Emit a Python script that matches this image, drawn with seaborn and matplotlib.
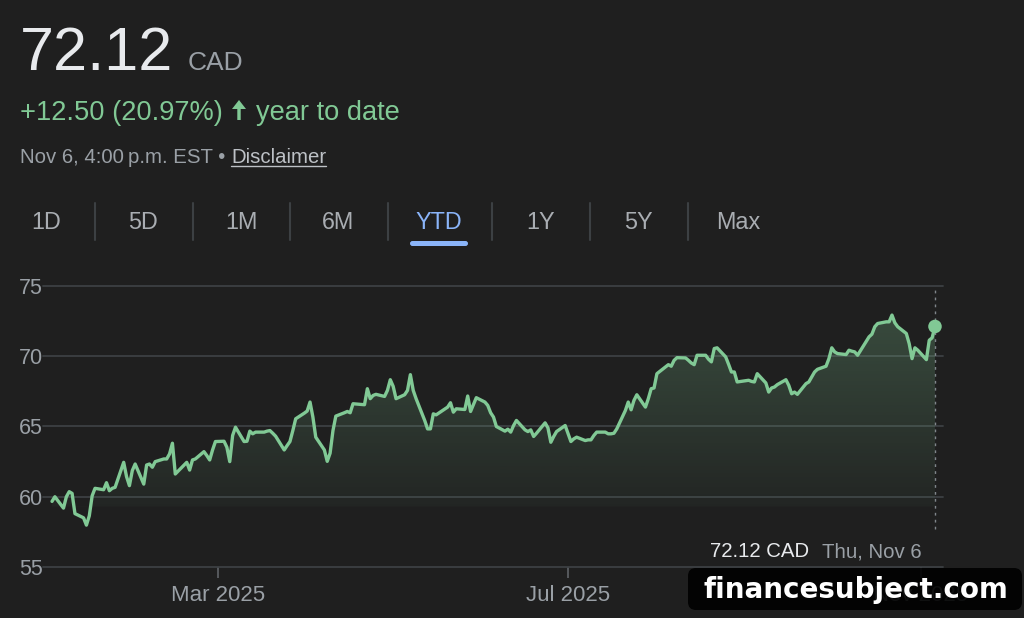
import numpy as np
import pandas as pd
import matplotlib
matplotlib.use("Agg")
import matplotlib.pyplot as plt
import matplotlib.dates as mdates
from matplotlib.patches import Polygon, FancyBboxPatch, FancyArrow
from matplotlib.lines import Line2D
from matplotlib.transforms import IdentityTransform
import seaborn as sns

# closing prices, one per TSX trading day (Jan 2 - Nov 6, 2025)
price = [59.67, 60.0, 59.19, 60.0, 60.36, 60.24, 58.8, 58.5, 57.98, 58.64,
         60.07, 60.6, 60.5, 61.0, 60.43, 60.6, 60.67, 62.45, 61.43, 60.79,
         61.86, 62.33, 60.9, 62.26, 62.33, 62.1, 62.5, 62.69, 62.69, 63.05,
         63.81, 61.62, 62.45, 61.9, 62.62, 62.69, 63.21, 62.93, 62.62, 63.33,
         63.93, 63.95, 63.52, 62.5, 64.36, 64.95, 63.93, 63.95, 64.67, 64.48,
         64.6, 64.6, 64.67, 64.71, 64.52, 64.31, 63.33, 63.64, 63.93, 64.71,
         65.55, 65.95, 66.1, 66.74, 65.67, 64.24, 63.33, 62.52, 63.1, 64.71,
         65.74, 65.98, 66.07, 65.98, 66.62, 66.55, 67.69, 66.98, 67.21, 67.29,
         67.14, 67.57, 68.33, 67.86, 66.98, 67.26, 67.57, 68.69, 67.57, 66.98,
         65.43, 64.83, 64.83, 65.9, 65.83, 66.38, 66.69, 66.02, 66.26, 66.21,
         67.17, 66.07, 66.55, 67.05, 66.74, 66.5, 65.98, 65.67, 65.0, 64.67,
         64.81, 64.6, 65.07, 65.43, 64.76, 64.64, 64.76, 64.29, 64.52, 65.26,
         64.9, 63.88, 64.29, 64.64, 65.07, 63.93, 64.12, 64.24, 64.0, 64.05,
         64.05, 64.36, 64.6, 64.6, 64.48, 64.48, 64.52, 64.83, 66.14, 66.74,
         66.19, 66.86, 67.26, 66.38, 66.98, 67.69, 67.74, 68.76, 69.4, 69.29,
         69.71, 69.9, 69.88, 69.71, 69.52, 69.4, 70.07, 70.07, 69.79, 69.6,
         70.55, 70.6, 69.95, 69.43, 68.88, 68.88, 68.17, 68.29, 68.21, 68.17,
         68.76, 68.1, 67.45, 67.74, 67.81, 67.98, 68.33, 67.93, 67.33, 67.45,
         67.29, 68.05, 68.17, 68.52, 68.88, 69.07, 69.29, 69.83, 70.6, 70.31,
         70.19, 70.12, 70.43, 70.36, 70.31, 70.07, 71.38, 71.57, 72.1, 72.33,
         72.45, 72.45, 72.93, 72.38, 72.1, 71.62, 70.9, 69.83, 70.6, 70.43,
         69.76, 71.14, 71.31, 72.12]
holidays = ["2025-02-17", "2025-04-18", "2025-05-19", "2025-07-01",
            "2025-08-04", "2025-09-01", "2025-10-13"]
dates = pd.bdate_range("2025-01-02", "2025-11-06", freq="C", holidays=holidays)

y_ticks = [55, 60, 65, 70, 75]
x_ticks = ["2025-03-01", "2025-07-01", "2025-11-01"]
x_tick_labels = ["Mar 2025", "Jul 2025", "Nov 2025"]
ranges = ["1D", "5D", "1M", "6M", "YTD", "1Y", "5Y", "Max"]
selected = "YTD"
last_price = 72.12
change = 12.50
change_pct = 20.97

BG = "#1f1f1f"
GREEN = "#81c995"
GRID = "#3c4043"
MUTED = "#9aa0a6"
TEXT = "#e8eaed"
BLUE = "#8ab4f8"

sns.set_theme(style="dark", rc={"axes.facecolor": BG, "figure.facecolor": BG,
                                "savefig.facecolor": BG})
plt.rcParams["font.family"] = ["Liberation Sans", "DejaVu Sans"]

W, H = 1024, 618
fig = plt.figure(figsize=(W / 100, H / 100), dpi=100)


def fx(x):
    return x / W


def fy(y):
    return 1 - y / H


# chart area
ax = fig.add_axes([fx(43), fy(567), fx(943) - fx(43), fy(286) - fy(567)])
df = pd.DataFrame({"date": dates, "price": price})
sns.lineplot(data=df, x="date", y="price", ax=ax, color=GREEN, lw=2.4, zorder=4)

# gradient fill under the line
xn = mdates.date2num(df["date"])
base = 59.3
verts = [(xn[0], base)] + list(zip(xn, df["price"])) + [(xn[-1], base)]
poly = Polygon(verts, closed=True, facecolor="none", edgecolor="none")
ax.add_patch(poly)
rgba = np.zeros((256, 1, 4))
rgba[..., :3] = matplotlib.colors.to_rgb(GREEN)
rgba[:, 0, 3] = np.linspace(0.26, 0.04, 256)
im = ax.imshow(rgba, extent=[xn[0], xn[-1], base, max(price)], origin="upper",
               aspect="auto", zorder=2, interpolation="bilinear")
im.set_clip_path(poly)

ax.set_xlim(xn[0] - 9 / 2.861, xn[-1] + 8 / 2.861)
ax.set_ylim(55, 75)
ax.set_yticks(y_ticks)
ax.set_xticks(mdates.date2num(pd.to_datetime(x_ticks)))
ax.set_xticklabels(x_tick_labels)
ax.set_xlabel("")
ax.set_ylabel("")
ax.grid(axis="y", color=GRID, lw=1.3)
ax.grid(axis="x", visible=False)
for gl in ax.yaxis.get_gridlines():
    gl.set_clip_on(False)
for s in ax.spines.values():
    s.set_visible(False)
ax.tick_params(axis="y", length=0, pad=0, labelsize=15.5, labelcolor=MUTED)
ax.tick_params(axis="x", bottom=True, length=8, width=1.2, color="#5f6368",
               direction="out", pad=5, labelsize=16, labelcolor=MUTED)

# last point marker + hover line
ax.vlines(xn[-1], 57.7, 75, colors="#80868b", linestyles=(0, (2, 3)), lw=1,
          zorder=3)
ax.scatter([xn[-1]], [price[-1]], s=95, color=GREEN, zorder=5, edgecolor="none")

# header
fig.text(fx(20), fy(70), f"{last_price:.2f}", fontsize=44, color=TEXT, va="baseline")
fig.text(fx(188), fy(70), "CAD", fontsize=19, color=MUTED, va="baseline")
fig.text(fx(20), fy(120), f"+{change:.2f} ({change_pct:.2f}%)", fontsize=19.6,
         color=GREEN, va="baseline")
fig.add_artist(FancyArrow(239, H - 120, 0, 20, width=3.4, head_width=14,
                          head_length=9, length_includes_head=True, fc=GREEN,
                          ec="none", transform=IdentityTransform()))
fig.text(fx(256), fy(120), "year to date", fontsize=19.6, color=GREEN, va="baseline")
fig.text(fx(20), fy(163), "Nov 6, 4:00\u202fp.m. EST \u2022", fontsize=14.7,
         color=MUTED, va="baseline")
fig.text(fx(231), fy(163), "Disclaimer", fontsize=14.7, color="#bdc1c6",
         va="baseline")
fig.add_artist(Line2D([fx(231), fx(326)], [fy(166), fy(166)], color="#bdc1c6",
                      lw=1, transform=fig.transFigure))

# range tabs
tab_x = [46, 143, 241, 338, 439, 541, 638, 738]
for label, cx in zip(ranges, tab_x):
    fig.text(fx(cx), fy(229), label, fontsize=16.8, ha="center", va="baseline",
             color=BLUE if label == selected else "#a9adb2")
for sx in [95, 193, 290, 388, 492, 590, 688]:
    fig.add_artist(Line2D([fx(sx), fx(sx)], [fy(203), fy(240)], color=GRID,
                          lw=1.5, transform=fig.transFigure))
fig.add_artist(FancyBboxPatch((410, H - 246), 58, 5,
                              boxstyle="round,pad=0,rounding_size=2.5",
                              fc=BLUE, ec="none", transform=IdentityTransform()))

# hover readout
fig.text(fx(710), fy(557), f"{last_price:.2f} CAD", fontsize=14.7, color=TEXT,
         va="baseline")
fig.text(fx(822), fy(557), "Thu, Nov 6", fontsize=14.7, color=MUTED, va="baseline")

# watermark (slightly see-through, the Nov tick label shows faintly behind it)
fig.add_artist(FancyBboxPatch((688, H - 610), 334, 42,
                              boxstyle="round,pad=0,rounding_size=8",
                              fc="black", ec="none", alpha=0.9,
                              transform=IdentityTransform(), zorder=10))
fig.text(fx(856), fy(590), "financesubject.com", fontsize=20, color="white",
         ha="center", va="center", family="DejaVu Sans", fontweight="bold",
         zorder=11)

fig.savefig("out.png", dpi=100, facecolor=BG)
